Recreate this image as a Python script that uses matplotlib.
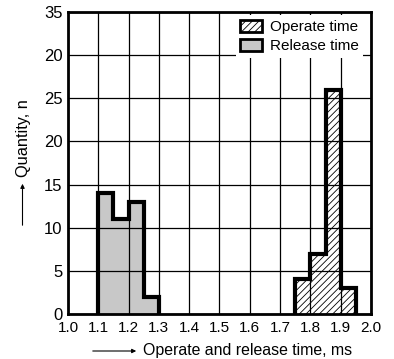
import matplotlib
matplotlib.use('Agg')
import matplotlib.pyplot as plt
from matplotlib.patches import Patch, FancyArrowPatch

# bin edges (ms) and counts for each histogram
release_edges = [1.10, 1.15, 1.20, 1.25, 1.30]
release_counts = [14, 11, 13, 2]
operate_edges = [1.75, 1.80, 1.85, 1.90, 1.95]
operate_counts = [4, 7, 26, 3]

x_ticks = [1.0, 1.1, 1.2, 1.3, 1.4, 1.5, 1.6, 1.7, 1.8, 1.9, 2.0]
y_ticks = [0, 5, 10, 15, 20, 25, 30, 35]
y_tick_labels = ['0', '5', '10', '15', '20', '25', '20', '35']

plt.rcParams['font.family'] = ['Liberation Sans Narrow', 'Liberation Sans', 'DejaVu Sans']
plt.rcParams['hatch.linewidth'] = 0.6
sans = ['Liberation Sans', 'DejaVu Sans']

fig = plt.figure(figsize=(3.94, 3.59), dpi=100)
ax = fig.add_axes([0.1726, 0.1253, 0.769, 0.8413])

gray = '#c8c8c8'
# fills first, grid over them, thick outlines on top
ax.stairs(release_counts, release_edges, baseline=0, fill=True,
          facecolor=gray, linewidth=0, zorder=1)
ax.stairs(operate_counts, operate_edges, baseline=0, fill=True,
          facecolor='white', edgecolor='black', hatch='/////', linewidth=0, zorder=1)
ax.stairs(release_counts, release_edges, baseline=0, fill=False,
          edgecolor='black', linewidth=3, zorder=3)
ax.stairs(operate_counts, operate_edges, baseline=0, fill=False,
          edgecolor='black', linewidth=3, zorder=3)

ax.set_xlim(1.0, 2.0)
ax.set_ylim(0, 35)
ax.set_xticks(x_ticks)
ax.set_yticks(y_ticks)
ax.set_yticklabels(y_tick_labels)
ax.tick_params(length=0, colors='black')
ax.tick_params(axis='x', pad=5, labelsize=11)
ax.tick_params(axis='y', pad=4, labelsize=12)
ax.grid(True, color='black', linewidth=0.9, zorder=2)
ax.set_axisbelow(False)
for s in ax.spines.values():
    s.set_linewidth(2)
    s.set_zorder(4)

handles = [
    Patch(facecolor='white', edgecolor='black', hatch='/////', linewidth=2, label='Operate time'),
    Patch(facecolor=gray, edgecolor='black', linewidth=2, label='Release time'),
]
leg = ax.legend(handles=handles, loc='upper right', bbox_to_anchor=(0.975, 0.99),
                frameon=True, fancybox=False, framealpha=1, edgecolor='none',
                prop={'family': sans, 'size': 11},
                handlelength=1.4, handleheight=0.9, handletextpad=0.55,
                labelspacing=0.3, borderpad=0.3, borderaxespad=0.0)
leg.set_zorder(5)

# axis titles with leading arrows
fig.text(143 / 394, 1 - 351 / 359, 'Operate and release time, ms', fontsize=11.4,
         family=sans, ha='left', va='center')
fig.text(24 / 394, 1 - 177 / 359, 'Quantity, n', fontsize=11.8, rotation=90,
         family=sans, ha='center', va='bottom')
fig.add_artist(FancyArrowPatch(
    (90 / 394, 1 - 351 / 359), (139 / 394, 1 - 351 / 359),
    transform=fig.transFigure, arrowstyle='-|>', mutation_scale=6,
    linewidth=0.8, color='black'))
fig.add_artist(FancyArrowPatch(
    (22.5 / 394, 1 - 228 / 359), (22.5 / 394, 1 - 181 / 359),
    transform=fig.transFigure, arrowstyle='-|>', mutation_scale=6,
    linewidth=0.8, color='black'))

fig.savefig('out.png', dpi=100)
